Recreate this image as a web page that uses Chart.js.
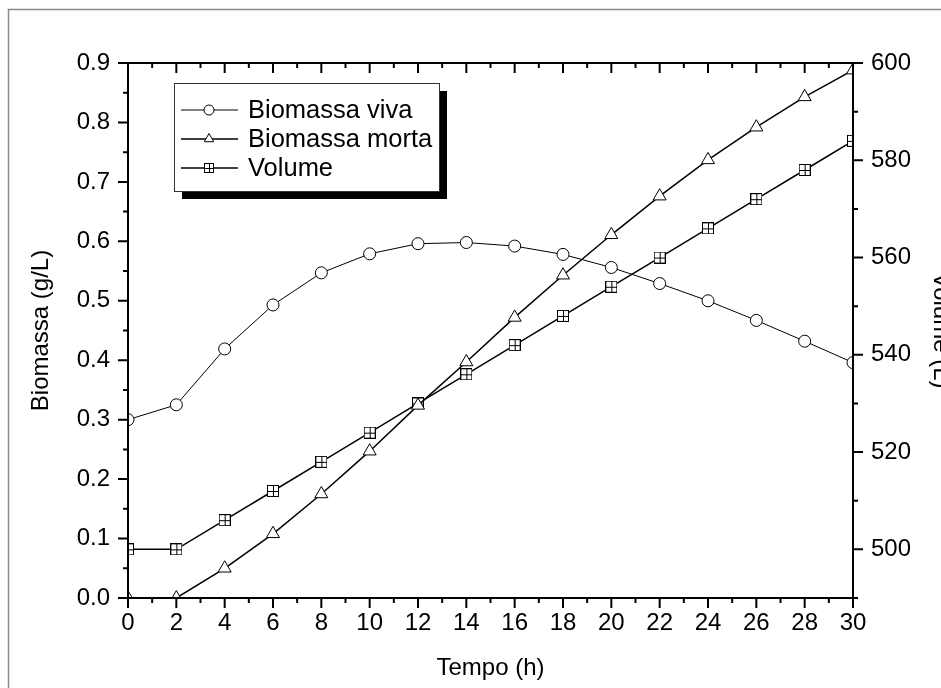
<!DOCTYPE html>
<html>
<head>
<meta charset="utf-8">
<script src="https://cdn.jsdelivr.net/npm/chart.js@4/dist/chart.umd.min.js"></script>
<style>
    html, body { margin: 0; padding: 0; background: #fff; overflow: hidden; }
</style>
</head>
<body>
<canvas id="myChart" width="941" height="688"></canvas>
<script>
"use strict";
// valores
const tempo = [0, 2, 4, 6, 8, 10, 12, 14, 16, 18, 20, 22, 24, 26, 28, 30];
const biomassaViva = [0.300, 0.325, 0.419, 0.493, 0.547, 0.579, 0.596, 0.598, 0.592, 0.578, 0.556, 0.529, 0.500, 0.467, 0.432, 0.396];
const biomassaMorta = [0.0, 0.0, 0.050, 0.108, 0.175, 0.247, 0.324, 0.397, 0.472, 0.543, 0.611, 0.676, 0.737, 0.792, 0.843, 0.888];
const volume = [500, 500, 506, 512, 518, 524, 530, 536, 542, 548, 554, 560, 566, 572, 578, 584];

const xTicks = [0, 2, 4, 6, 8, 10, 12, 14, 16, 18, 20, 22, 24, 26, 28, 30];
const yTicks = [0, 0.1, 0.2, 0.3, 0.4, 0.5, 0.6, 0.7, 0.8, 0.9];
const y1Ticks = [500, 520, 540, 560, 580, 600];

Chart.defaults.font.family = "'Liberation Sans', Arial, Helvetica, sans-serif";
Chart.defaults.font.size = 24;
Chart.defaults.color = "#000";

function pairs(xs, ys) {
    return xs.map((x, i) => ({ x: x, y: ys[i] }));
}

// simbolo quadrado com cruz
function squareCross(size) {
    const c = document.createElement("canvas");
    c.width = size;
    c.height = size;
    const g = c.getContext("2d");
    g.fillStyle = "#fff";
    g.fillRect(0, 0, size, size);
    g.strokeStyle = "#000";
    g.lineWidth = 1;
    g.strokeRect(0.5, 0.5, size - 1, size - 1);
    const m = Math.floor(size / 2) + 0.5;
    g.beginPath();
    g.moveTo(m, 0); g.lineTo(m, size);
    g.moveTo(0, m); g.lineTo(size, m);
    g.stroke();
    return c;
}
const squareIcon = squareCross(12);
const squareLegend = squareCross(10);

// moldura, eixos e marcas
const axisFrame = {
    id: "axisFrame",
    beforeDraw(chart) {
        const ctx = chart.ctx;
        ctx.save();
        ctx.fillStyle = "#fff";
        ctx.fillRect(0, 0, chart.width, chart.height);
        ctx.strokeStyle = "#8a8a8a";
        ctx.lineWidth = 1.5;
        ctx.beginPath();
        ctx.moveTo(8.5, chart.height);
        ctx.lineTo(8.5, 9.5);
        ctx.lineTo(chart.width, 9.5);
        ctx.stroke();
        ctx.restore();
    },
    afterDraw(chart) {
        const { ctx, chartArea: a, scales } = chart;
        ctx.save();
        ctx.strokeStyle = "#000";
        ctx.lineWidth = 2;
        ctx.beginPath();
        for (let t = 0; t <= 30; t++) {
            const px = scales.x.getPixelForValue(t);
            const len = t % 2 === 0 ? 10 : 5;
            ctx.moveTo(px, a.bottom); ctx.lineTo(px, a.bottom + len);
            ctx.moveTo(px, a.top); ctx.lineTo(px, a.top + len);
        }
        for (let i = 0; i <= 18; i++) {
            const py = scales.y.getPixelForValue(i * 0.05);
            const len = i % 2 === 0 ? 10 : 5;
            ctx.moveTo(a.left, py); ctx.lineTo(a.left - len, py);
        }
        for (let v = 490; v <= 600; v += 10) {
            const py = scales.y1.getPixelForValue(v);
            const len = (v - 500) % 20 === 0 ? 10 : 5;
            ctx.moveTo(a.right, py); ctx.lineTo(a.right + len, py);
        }
        ctx.stroke();
        ctx.strokeRect(a.left, a.top, a.right - a.left, a.bottom - a.top);
        ctx.restore();
    }
};

// legenda com sombra
const legendBox = {
    id: "legendBox",
    afterDraw(chart) {
        const ctx = chart.ctx;
        const bx = 174, by = 83, bw = 265, bh = 108;
        ctx.save();
        ctx.fillStyle = "#000";
        ctx.fillRect(bx + 8, by + 8, bw, bh);
        ctx.fillStyle = "#fff";
        ctx.fillRect(bx, by, bw, bh);
        ctx.strokeStyle = "#333";
        ctx.lineWidth = 1;
        ctx.strokeRect(bx + 0.5, by + 0.5, bw, bh);
        chart.data.datasets.forEach((ds, i) => {
            const cy = by + 27 + i * 29;
            ctx.strokeStyle = "#000";
            ctx.lineWidth = ds.borderWidth;
            ctx.beginPath();
            ctx.moveTo(bx + 7, cy);
            ctx.lineTo(bx + 64, cy);
            ctx.stroke();
            ctx.fillStyle = "#fff";
            ctx.lineWidth = 1;
            Chart.helpers.drawPoint(ctx, {
                pointStyle: ds.legendStyle,
                radius: ds.legendRadius,
                borderWidth: 1,
                rotation: 0
            }, bx + 35, cy);
            ctx.fillStyle = "#000";
            ctx.font = "25.5px 'Liberation Sans', Arial, sans-serif";
            ctx.textBaseline = "middle";
            ctx.textAlign = "left";
            ctx.fillText(ds.label, bx + 74, cy + 1);
        });
        ctx.restore();
    }
};

const ctx = document.getElementById("myChart");
let grafico = new Chart(ctx, {
    type: "line",
    data: {
        datasets: [{
            label: "Biomassa viva",
            data: pairs(tempo, biomassaViva),
            yAxisID: "y",
            borderColor: "#000",
            borderWidth: 1,
            pointStyle: "circle",
            legendStyle: "circle",
            pointRadius: 6,
            legendRadius: 5,
            pointBackgroundColor: "#fff",
            pointBorderColor: "#000",
            pointBorderWidth: 1
        }, {
            label: "Biomassa morta",
            data: pairs(tempo, biomassaMorta),
            yAxisID: "y",
            borderColor: "#000",
            borderWidth: 1.5,
            pointStyle: "triangle",
            legendStyle: "triangle",
            pointRadius: 7.5,
            legendRadius: 5.5,
            pointBackgroundColor: "#fff",
            pointBorderColor: "#000",
            pointBorderWidth: 1
        }, {
            label: "Volume",
            data: pairs(tempo, volume),
            yAxisID: "y1",
            borderColor: "#000",
            borderWidth: 1.5,
            pointStyle: squareIcon,
            legendStyle: squareLegend,
            pointRadius: 6,
            legendRadius: 5,
            pointBackgroundColor: "#fff",
            pointBorderColor: "#000",
            pointBorderWidth: 1
        }]
    },
    options: {
        responsive: false,
        animation: false,
        devicePixelRatio: 1,
        layout: { padding: { top: 63, left: 0, right: 0, bottom: 0 } },
        elements: { line: { tension: 0 } },
        plugins: {
            legend: { display: false },
            tooltip: { enabled: false }
        },
        scales: {
            x: {
                type: "linear",
                position: "bottom",
                min: 0,
                max: 30,
                afterBuildTicks: s => { s.ticks = xTicks.map(v => ({ value: v })); },
                afterFit: s => { s.height = 90; },
                grid: { display: false, drawTicks: false },
                border: { display: false },
                ticks: { padding: 11, autoSkip: false, maxRotation: 0 },
                title: { display: true, text: "Tempo (h)", padding: { top: 0, bottom: 5 } }
            },
            y: {
                type: "linear",
                position: "left",
                min: 0,
                max: 0.9,
                afterBuildTicks: s => { s.ticks = yTicks.map(v => ({ value: v })); },
                afterFit: s => { s.width = 128; },
                grid: { display: false, drawTicks: false },
                border: { display: false },
                ticks: { padding: 18, callback: v => v.toFixed(1) },
                title: { display: true, text: "Biomassa (g/L)", padding: { top: 27, bottom: 0 } }
            },
            y1: {
                type: "linear",
                position: "right",
                min: 490,
                max: 600,
                afterBuildTicks: s => { s.ticks = y1Ticks.map(v => ({ value: v })); },
                afterFit: s => { s.width = 88; },
                grid: { display: false, drawTicks: false },
                border: { display: false },
                ticks: { padding: 18 },
                title: { display: true, text: "Volume (L)", padding: { top: -14, bottom: 0 } }
            }
        }
    },
    plugins: [axisFrame, legendBox]
});
</script>
</body>
</html>
